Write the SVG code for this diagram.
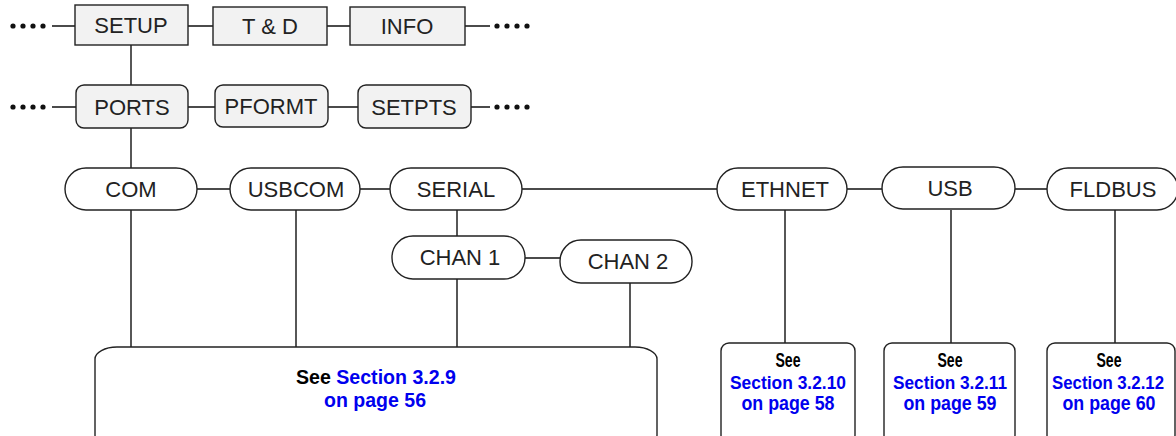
<svg xmlns="http://www.w3.org/2000/svg" width="1176" height="436" viewBox="0 0 1176 436">
<style>
.box{fill:#f2f2f2;stroke:#222;stroke-width:1.4}
.pill{fill:#fff;stroke:#222;stroke-width:1.4}
.ref{fill:#fff;stroke:#222;stroke-width:1.4}
.ln{stroke:#111;stroke-width:1.4;fill:none}
.lbl{font-family:"Liberation Sans",Arial,sans-serif;font-size:22px;fill:#222;text-anchor:middle}
.rt{font-family:"Liberation Sans",Arial,sans-serif;font-weight:bold;font-size:21px;text-anchor:middle}
.sm{font-size:19px}
.blk{fill:#000}
.blu{fill:#0000ee}
.dot{fill:#111}
</style>
<rect width="1176" height="436" fill="#fff"/>
<g id="connectors">
<path class="ln" d="M52 26H75M188 26H213M327 26H350M465 26H490"/>
<path class="ln" d="M52 107H76M188 107H215M328 107H358M471 107H490"/>
<path class="ln" d="M131 45V85M131 128V168"/>
<path class="ln" d="M197 189H230M360 189H390M522 189H717M847 189H882M1015 189H1047"/>
<path class="ln" d="M457 210V236M525 258H560"/>
<path class="ln" d="M131 210V347M296 210V347M457 279V347M630 283V347"/>
<path class="ln" d="M785 210V343M951 210V343M1115 210V343"/>
<g class="dot">
<circle cx="13" cy="26" r="2.6"/><circle cx="23" cy="26" r="2.6"/><circle cx="33" cy="26" r="2.6"/><circle cx="43" cy="26" r="2.6"/>
<circle cx="497" cy="26" r="2.6"/><circle cx="507" cy="26" r="2.6"/><circle cx="517" cy="26" r="2.6"/><circle cx="527" cy="26" r="2.6"/>
<circle cx="13" cy="107" r="2.6"/><circle cx="23" cy="107" r="2.6"/><circle cx="33" cy="107" r="2.6"/><circle cx="43" cy="107" r="2.6"/>
<circle cx="497" cy="107" r="2.6"/><circle cx="507" cy="107" r="2.6"/><circle cx="517" cy="107" r="2.6"/><circle cx="527" cy="107" r="2.6"/>
</g>
</g>
<g id="setup"><rect class="box" x="75" y="5" width="113" height="40"/><text class="lbl" x="131" y="33">SETUP</text></g>
<g id="td"><rect class="box" x="213" y="7" width="114" height="38"/><text class="lbl" x="270" y="34">T &amp; D</text></g>
<g id="info"><rect class="box" x="350" y="7" width="115" height="38"/><text class="lbl" x="407" y="34">INFO</text></g>
<g id="ports"><rect class="box" x="76" y="85" width="112" height="43" rx="8"/><text class="lbl" x="132" y="115">PORTS</text></g>
<g id="pformt"><rect class="box" x="215" y="85" width="113" height="42" rx="8"/><text class="lbl" x="271" y="114">PFORMT</text></g>
<g id="setpts"><rect class="box" x="358" y="85" width="113" height="43" rx="8"/><text class="lbl" x="414" y="115">SETPTS</text></g>
<g id="com"><rect class="pill" x="65" y="168" width="132" height="42" rx="21"/><text class="lbl" x="131" y="197">COM</text></g>
<g id="usbcom"><rect class="pill" x="230" y="168" width="130" height="42" rx="21"/><text class="lbl" x="296" y="197">USBCOM</text></g>
<g id="serial"><rect class="pill" x="390" y="168" width="132" height="42" rx="21"/><text class="lbl" x="456" y="197">SERIAL</text></g>
<g id="ethnet"><rect class="pill" x="717" y="168" width="130" height="42" rx="21"/><text class="lbl" x="785" y="197">ETHNET</text></g>
<g id="usb"><rect class="pill" x="882" y="167" width="133" height="42" rx="21"/><text class="lbl" x="950" y="196">USB</text></g>
<g id="fldbus"><rect class="pill" x="1047" y="168" width="131" height="42" rx="21"/><text class="lbl" x="1113" y="197">FLDBUS</text></g>
<g id="chan1"><rect class="pill" x="392" y="236" width="133" height="43" rx="21"/><text class="lbl" x="460" y="265">CHAN 1</text></g>
<g id="chan2"><rect class="pill" x="560" y="240" width="132" height="43" rx="21"/><text class="lbl" x="628" y="269">CHAN 2</text></g>
<g id="ref1"><rect class="ref" x="95" y="347" width="562" height="100" rx="22" ry="12"/>
<text class="rt" x="376" y="384" textLength="160" lengthAdjust="spacingAndGlyphs"><tspan class="blk">See </tspan><tspan class="blu">Section 3.2.9</tspan></text>
<text class="rt blu" x="375" y="407" textLength="102" lengthAdjust="spacingAndGlyphs">on page 56</text></g>
<g id="ref2"><rect class="ref" x="721" y="343" width="134" height="100" rx="8"/>
<text class="rt blk" x="788" y="367" textLength="25" lengthAdjust="spacingAndGlyphs">See</text><text class="rt sm blu" x="788" y="389" textLength="116" lengthAdjust="spacingAndGlyphs">Section 3.2.10</text><text class="rt blu" x="788" y="410" textLength="93" lengthAdjust="spacingAndGlyphs">on page 58</text></g>
<g id="ref3"><rect class="ref" x="884" y="343" width="131" height="100" rx="8"/>
<text class="rt blk" x="950" y="367" textLength="25" lengthAdjust="spacingAndGlyphs">See</text><text class="rt sm blu" x="950" y="389" textLength="114" lengthAdjust="spacingAndGlyphs">Section 3.2.11</text><text class="rt blu" x="950" y="410" textLength="93" lengthAdjust="spacingAndGlyphs">on page 59</text></g>
<g id="ref4"><rect class="ref" x="1047" y="343" width="128" height="100" rx="8"/>
<text class="rt blk" x="1109" y="367" textLength="25" lengthAdjust="spacingAndGlyphs">See</text><text class="rt blu" x="1108" y="389" style="font-size:18px" textLength="112" lengthAdjust="spacingAndGlyphs">Section 3.2.12</text><text class="rt blu" x="1109" y="410" textLength="93" lengthAdjust="spacingAndGlyphs">on page 60</text></g>
</svg>
